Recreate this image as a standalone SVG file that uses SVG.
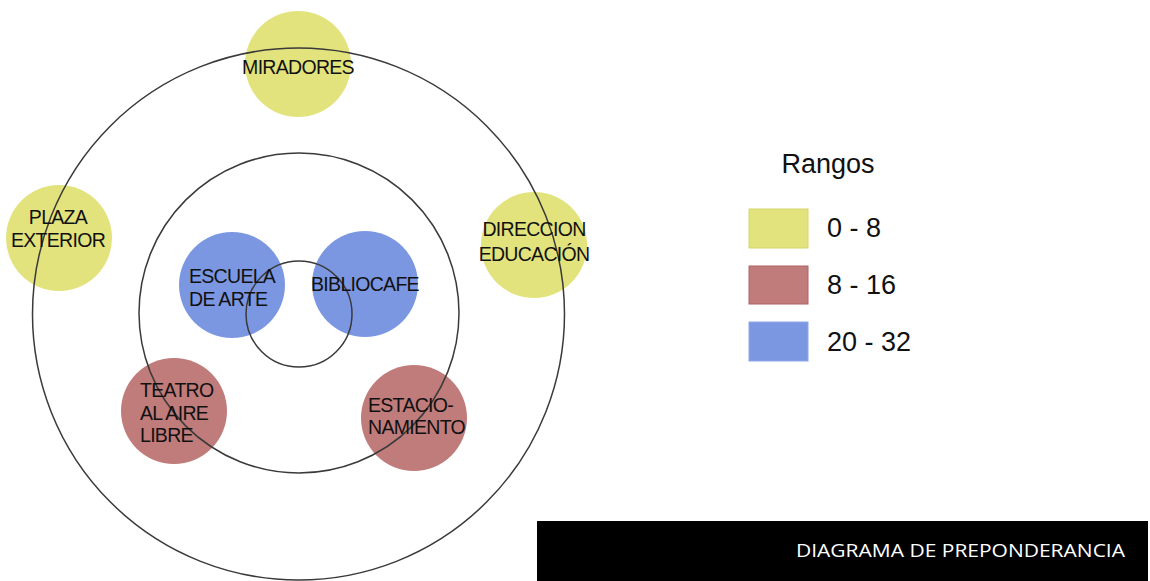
<svg xmlns="http://www.w3.org/2000/svg" width="1150" height="581" viewBox="0 0 1150 581">
<style>
.ring{fill:none;stroke:#3a3a3a;stroke-width:1.5}
.y{fill:#e2e37c}
.r{fill:#c07b7b}
.b{fill:#7c97e2}
.lbl{font-family:"Liberation Sans",Arial,sans-serif;font-size:19.5px;letter-spacing:-0.7px;fill:#111}
.leg{font-family:"Liberation Sans",Arial,sans-serif;font-size:27px;fill:#111}
.title{font-family:"Open Sans","Liberation Sans",sans-serif;font-size:18px;fill:#fff}
</style>
<rect width="1150" height="581" fill="#fff"/>
<g id="miradores"><circle class="y" cx="298" cy="64" r="53"/></g>
<g id="plaza-exterior"><circle class="y" cx="59" cy="238" r="53"/></g>
<g id="direccion-educacion"><circle class="y" cx="534" cy="245" r="53"/></g>
<g id="escuela-de-arte"><circle class="b" cx="232" cy="285" r="53"/></g>
<g id="bibliocafe"><circle class="b" cx="365" cy="284" r="53"/></g>
<g id="teatro"><circle class="r" cx="174" cy="411" r="53"/></g>
<g id="estacionamiento"><circle class="r" cx="414" cy="418" r="53"/></g>
<g id="rings">
<circle class="ring" cx="298.5" cy="314" r="266"/>
<circle class="ring" cx="299" cy="313" r="160"/>
<circle class="ring" cx="299" cy="314" r="53"/>
</g>
<g id="labels">
<text class="lbl" x="298" y="74" text-anchor="middle">MIRADORES</text>
<text class="lbl" x="58" y="224" text-anchor="middle">PLAZA</text>
<text class="lbl" x="58" y="247" text-anchor="middle">EXTERIOR</text>
<text class="lbl" x="534" y="236" text-anchor="middle">DIRECCION</text>
<text class="lbl" x="534" y="261" text-anchor="middle">EDUCACIÓN</text>
<text class="lbl" x="189" y="283">ESCUELA</text>
<text class="lbl" x="189" y="306">DE ARTE</text>
<text class="lbl" x="365" y="291" text-anchor="middle">BIBLIOCAFE</text>
<text class="lbl" x="140" y="397">TEATRO</text>
<text class="lbl" x="140" y="420">AL AIRE</text>
<text class="lbl" x="140" y="442">LIBRE</text>
<text class="lbl" x="368" y="412">ESTACIO-</text>
<text class="lbl" x="368" y="434">NAMIENTO</text>
</g>
<g id="legend">
<text class="leg" x="828" y="173" text-anchor="middle">Rangos</text>
<rect class="y" x="749" y="209" width="59" height="39" stroke="#d4d56a" stroke-width="1"/>
<rect class="r" x="749" y="266" width="59" height="38" stroke="#b06464" stroke-width="1"/>
<rect class="b" x="749" y="322" width="59" height="39" stroke="#90a8ea" stroke-width="1"/>
<text class="leg" x="827" y="237">0 - 8</text>
<text class="leg" x="827" y="294">8 - 16</text>
<text class="leg" x="827" y="351">20 - 32</text>
</g>
<g id="title">
<rect x="537" y="521" width="611" height="60" fill="#000"/>
<text class="title" x="1125" y="557" text-anchor="end" textLength="329" lengthAdjust="spacingAndGlyphs">DIAGRAMA DE PREPONDERANCIA</text>
</g>
</svg>
